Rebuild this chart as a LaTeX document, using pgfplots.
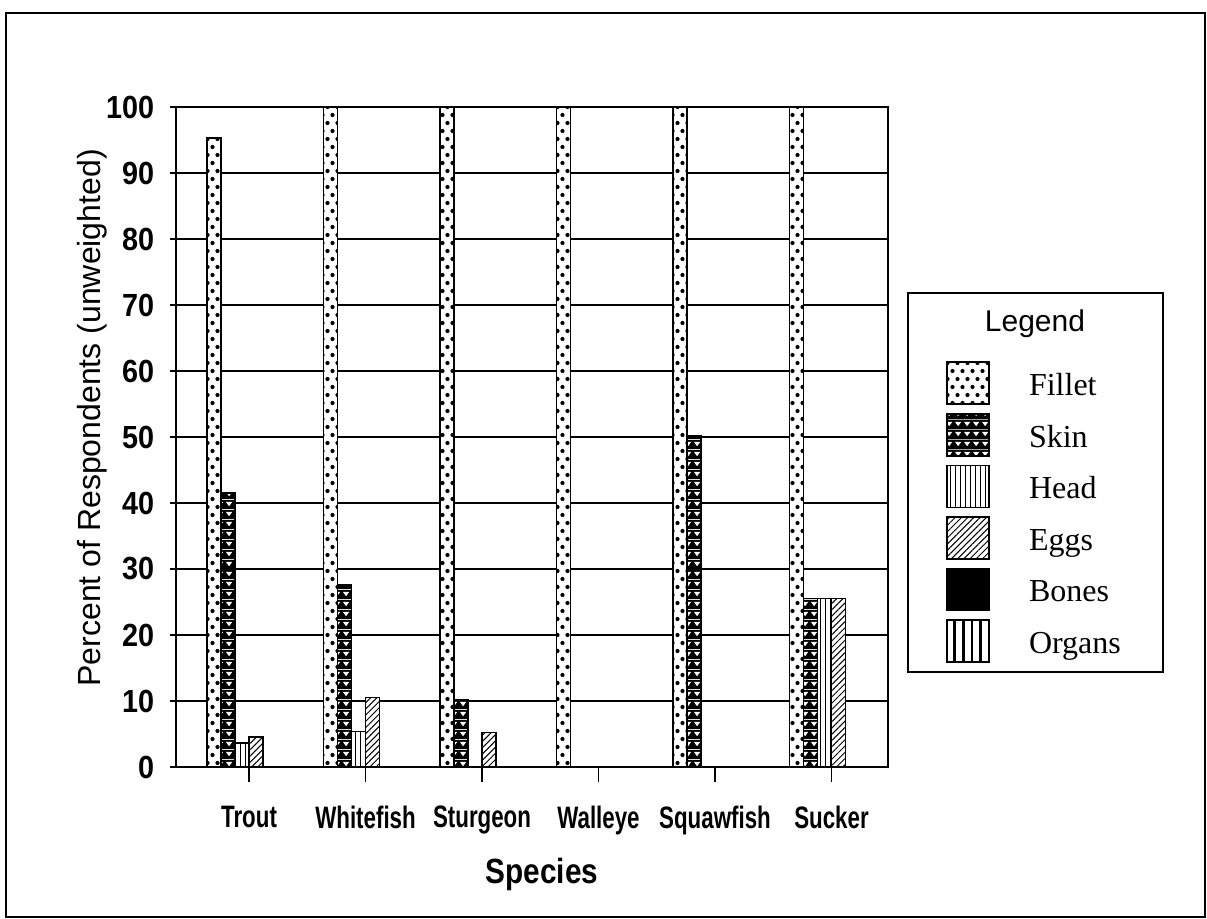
\documentclass[border=0pt]{standalone}
\usepackage{pgfplots}
\pgfplotsset{compat=1.18}
\usetikzlibrary{patterns,patterns.meta}
\usepackage{fontspec}
\setmainfont{Liberation Serif}
\newfontfamily\ynum[FakeStretch=0.9]{Liberation Sans}
\newfontfamily\xnum[FakeStretch=0.72]{Liberation Sans}
\newfontfamily\spfont[FakeStretch=0.85]{Liberation Sans}
\newfontfamily\labsans{Liberation Sans}

\pgfdeclarepatternformonly{filletdots}{\pgfqpoint{-0.5pt}{-0.5pt}}{\pgfqpoint{5.5pt}{8.5pt}}{\pgfqpoint{5pt}{8pt}}{%
  \pgfpathcircle{\pgfqpoint{1.25pt}{2pt}}{1.05pt}%
  \pgfpathcircle{\pgfqpoint{3.75pt}{6pt}}{1.05pt}%
  \pgfusepath{fill}%
}
\pgfdeclarepatterninherentlycolored{skinwaves}{\pgfpointorigin}{\pgfqpoint{4.5pt}{5pt}}{\pgfqpoint{4.5pt}{5pt}}{%
  \pgfsetfillcolor{black}%
  \pgfpathrectangle{\pgfpointorigin}{\pgfqpoint{4.5pt}{5pt}}\pgfusepath{fill}%
  \pgfsetfillcolor{white}%
  \pgfpathmoveto{\pgfqpoint{0.5pt}{3.9pt}}\pgfpathlineto{\pgfqpoint{4pt}{3.9pt}}\pgfpathlineto{\pgfqpoint{2.25pt}{1.5pt}}\pgfpathclose\pgfusepath{fill}%
}

\pgfplotsset{
  mylegend/.style={legend image code/.code={\path[##1,draw=black,line width=0.8pt] (0pt,-6.8pt) rectangle (21pt,14.2pt);}},
}

\begin{document}
\begin{tikzpicture}
\begin{axis}[
  at={(0pt,0pt)}, anchor=south west,
  width=356pt, height=330pt, scale only axis,
  xmin=-0.627, xmax=5.485,
  ymin=0, ymax=100,
  ytick={0,10,...,100},
  xtick={0,...,5},
  xticklabels={Trout,Whitefish,Sturgeon,Walleye,Squawfish,Sucker},
  ymajorgrids,
  grid style={line width=1pt, black},
  axis line style={line width=1.2pt},
  tick align=outside,
  xtick pos=bottom, ytick pos=left,
  xtick style={line width=0.8pt, black, /pgfplots/major tick length=7.5pt},
  ytick style={line width=0.8pt, black, /pgfplots/major tick length=3pt},
  /pgf/number format/assume math mode=true,
  yticklabel style={font=\ynum\bfseries\fontsize{16pt}{18pt}\selectfont, anchor=east, inner sep=0pt, xshift=-6.5pt},
  xticklabel style={font=\xnum\bfseries\fontsize{15.5pt}{17pt}\selectfont, anchor=north, inner sep=0pt, yshift=-15pt},
  xlabel={Species},
  xlabel style={font=\spfont\bfseries\fontsize{17.5pt}{19pt}\selectfont, at={(axis description cs:0.514,-0.176)}, anchor=base},
  ylabel={Percent of Respondents (unweighted)},
  ylabel style={font=\labsans\fontsize{16pt}{18pt}\selectfont, at={(axis description cs:-0.118,0.529)}, anchor=center},
  ybar=0pt, bar width=7pt,
  legend style={draw=none, fill=none, at={(axis description cs:1.0815,0.6152)}, anchor=north west,
    inner sep=0pt, row sep=4pt, column sep=19.5pt,
    font=\fontsize{16pt}{18pt}\selectfont,
    nodes={inner sep=0pt, text height=5pt, text depth=0pt}},
  legend cell align=left,
]
\addplot[draw=black, line width=0.8pt, fill=white, postaction={pattern=filletdots}, mylegend]
  coordinates {(0,95.3) (1,100) (2,100) (3,100) (4,100) (5,100)};
\addlegendentry{Fillet}
\addplot[draw=black, line width=0.8pt, pattern=skinwaves, mylegend]
  coordinates {(0,41.5) (1,27.6) (2,10.2) (4,50.2) (5,25.5)};
\addlegendentry{Skin}
\addplot[draw=black, line width=0.8pt, fill=white, postaction={pattern={Lines[angle=90,distance=2.5pt,line width=0.45pt]}}, mylegend]
  coordinates {(0,3.6) (1,5.4) (5,25.5)};
\addlegendentry{Head}
\addplot[draw=black, line width=0.8pt, fill=white, postaction={pattern={Lines[angle=45,distance=2.2pt,line width=0.5pt]}}, mylegend]
  coordinates {(0,4.5) (1,10.5) (2,5.2) (5,25.5)};
\addlegendentry{Eggs}
\addplot[draw=black, line width=0.8pt, fill=black, mylegend]
  coordinates {(0,0)};
\addlegendentry{Bones}
\addplot[draw=black, line width=0.8pt, fill=white, postaction={pattern={Lines[angle=90,distance=4.3pt,line width=1.3pt]}}, mylegend]
  coordinates {(0,0)};
\addlegendentry{Organs}
\end{axis}
\draw[line width=1pt] (366pt,47.5pt) rectangle (493.5pt,237pt);
\node[font=\labsans\fontsize{15pt}{17pt}\selectfont] at (429.5pt,221.5pt) {Legend};
\draw[line width=1.2pt] (-85pt,-75pt) rectangle (514.5pt,377pt);
\pgfresetboundingbox
\path (-88pt,-76pt) rectangle (515.5pt,383.5pt);
\end{tikzpicture}
\end{document}
